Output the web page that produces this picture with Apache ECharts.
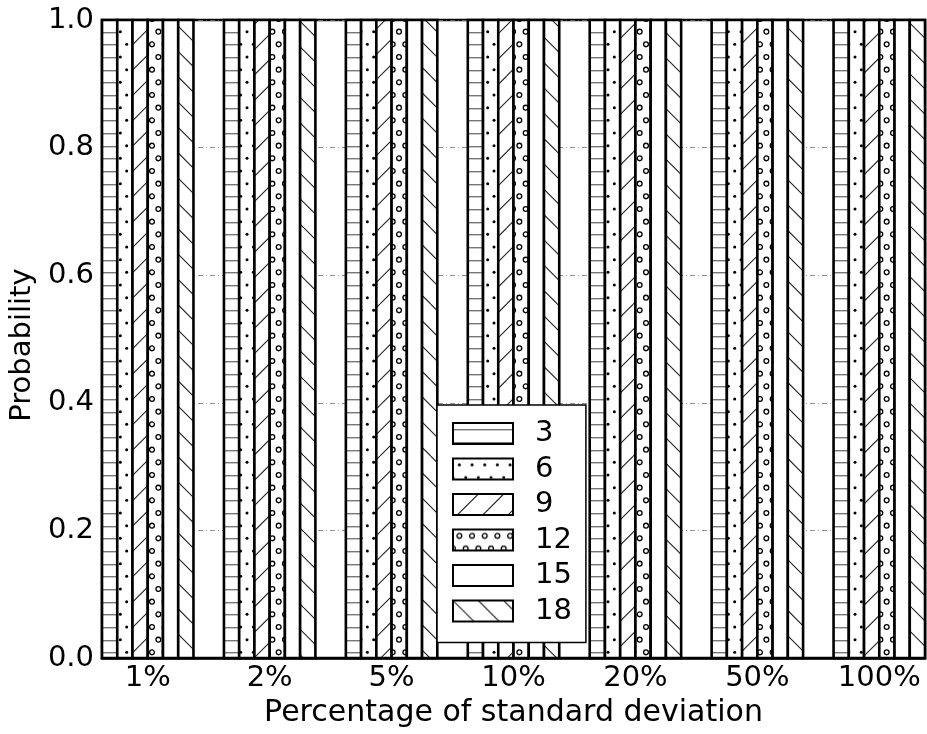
<!DOCTYPE html>
<html>
<head>
<meta charset="utf-8">
<script src="https://cdn.jsdelivr.net/npm/echarts@6/dist/echarts.min.js"></script>
<style>
html,body{margin:0;padding:0;background:#fff;}
#chart{width:927px;height:734px;}
</style>
</head>
<body>
<div id="chart"></div>
<script>
// ---- data ----
var categories = ['1%', '2%', '5%', '10%', '20%', '50%', '100%'];
var seriesNames = ['3', '6', '9', '12', '15', '18'];
var values3  = [1, 1, 1, 1, 1, 1, 1];
var values6  = [1, 1, 1, 1, 1, 1, 1];
var values9  = [1, 1, 1, 1, 1, 1, 1];
var values12 = [1, 1, 1, 1, 1, 1, 1];
var values15 = [1, 1, 1, 1, 1, 1, 1];
var values18 = [1, 1, 1, 1, 1, 1, 1];
var yTicks = [0.0, 0.2, 0.4, 0.6, 0.8, 1.0];
var hatches = ['-', '.', '/', 'o', '', '\\'];

var allValues = [values3, values6, values9, values12, values15, values18];

// ---- hatch patterns ----
var T = 76, S = T / 6;
function makePattern(h) {
  var c = document.createElement('canvas');
  c.width = T; c.height = T;
  var g = c.getContext('2d');
  g.fillStyle = '#fff';
  g.fillRect(0, 0, T, T);
  var r, k, x, y;
  if (h === '-') {
    g.fillStyle = '#777';
    for (r = 0; r < 6; r++) g.fillRect(0, Math.round(r * S + S / 2), T, 1.4);
  } else if (h === '.' || h === 'o') {
    for (r = 0; r < 6; r++) {
      for (k = -1; k < 8; k++) {
        x = k * S + S / 2 + (r % 2 ? S / 2 : 0);
        y = r * S + S / 2;
        g.beginPath();
        if (h === '.') {
          g.arc(x, y, 1.5, 0, Math.PI * 2);
          g.fillStyle = '#000'; g.fill();
        } else {
          g.arc(x, y, 2.4, 0, Math.PI * 2);
          g.strokeStyle = '#000'; g.lineWidth = 1.3; g.stroke();
        }
      }
    }
  } else if (h === '/' || h === '\\') {
    g.strokeStyle = '#222'; g.lineWidth = 1.1;
    var step = T / 3;
    for (k = -3; k <= 3; k++) {
      g.beginPath();
      if (h === '/') { g.moveTo(k * step, T); g.lineTo(k * step + T, 0); }
      else { g.moveTo(k * step, 0); g.lineTo(k * step + T, T); }
      g.stroke();
    }
  }
  return { image: c, repeat: 'repeat' };
}

var GROUP = 0.75, NB = seriesNames.length, BW = GROUP / NB;

var series = seriesNames.map(function (name, si) {
  var pat = makePattern(hatches[si]);
  return {
    type: 'custom',
    name: name,
    itemStyle: { color: pat, borderColor: '#000', borderWidth: 2.6 },
    data: allValues[si].map(function (v, gi) { return [gi, v]; }),
    encode: { x: 0, y: 1 },
    renderItem: function (params, api) {
      var gi = api.value(0), v = api.value(1);
      var x0 = gi - GROUP / 2 + si * BW;
      var p0 = api.coord([x0, v]);
      var p1 = api.coord([x0 + BW, 0]);
      return {
        type: 'rect',
        shape: { x: p0[0], y: p0[1], width: p1[0] - p0[0], height: p1[1] - p0[1] },
        style: { fill: pat, stroke: '#000', lineWidth: 2.6 }
      };
    }
  };
});

var FONT = 'DejaVu Sans';
var chart = echarts.init(document.getElementById('chart'), null, { renderer: 'canvas' });
chart.setOption({
  animation: false,
  backgroundColor: '#fff',
  textStyle: { fontFamily: FONT },
  grid: {
    left: 101, right: 2, top: 20, bottom: 76,
    show: true, borderColor: '#000', borderWidth: 2.6, backgroundColor: 'transparent'
  },
  xAxis: {
    type: 'value',
    min: -GROUP / 2,
    max: categories.length - 1 + GROUP / 2,
    name: 'Percentage of standard deviation',
    nameLocation: 'middle',
    nameGap: 39,
    nameTextStyle: { fontFamily: FONT, fontSize: 30, color: '#000' },
    axisLine: { show: true, lineStyle: { color: '#000', width: 2.6 } },
    axisTick: { show: false },
    splitLine: { show: false },
    axisLabel: {
      customValues: categories.map(function (c, i) { return i; }),
      formatter: function (v) { return categories[Math.round(v)]; },
      fontFamily: FONT, fontSize: 29, color: '#000', margin: 6
    }
  },
  yAxis: {
    type: 'value',
    min: 0, max: 1, interval: 0.2,
    name: 'Probability',
    nameLocation: 'middle',
    nameGap: 49,
    nameTextStyle: { fontFamily: FONT, fontSize: 29, color: '#000', padding: [0, 12, 0, 0] },
    axisLine: { show: true, lineStyle: { color: '#000', width: 2.6 } },
    axisTick: { show: true, inside: true, length: 8, lineStyle: { color: '#000', width: 1.3 } },
    splitLine: { show: true, lineStyle: { color: '#777', width: 0.8, type: [5, 3, 1, 3] } },
    axisLabel: {
      customValues: yTicks,
      formatter: function (v) { return v.toFixed(1); },
      fontFamily: FONT, fontSize: 29, color: '#000', margin: 8
    }
  },
  legend: {
    orient: 'vertical',
    left: 437, top: 405,
    padding: [14, 14, 17, 15],
    backgroundColor: '#fff',
    borderColor: '#000', borderWidth: 1.5,
    itemWidth: 60, itemHeight: 21,
    itemGap: 6.5,
    icon: 'rect',
    selectedMode: false,
    data: seriesNames,
    textStyle: { fontFamily: FONT, fontSize: 29, color: '#000', padding: [0, 0, 0, 17] }
  },
  series: series
});
</script>
</body>
</html>
